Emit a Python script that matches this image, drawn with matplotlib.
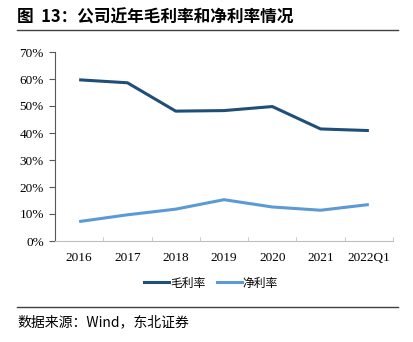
import matplotlib
matplotlib.use("Agg")
import matplotlib.pyplot as plt
import numpy as np
from matplotlib.lines import Line2D

plt.rcParams['font.family'] = ['Liberation Serif', 'Noto Sans CJK SC', 'DejaVu Sans']

categories = ["2016", "2017", "2018", "2019", "2020", "2021", "2022Q1"]
gross_margin = [59.7, 58.6, 48.1, 48.3, 49.8, 41.5, 40.9]
net_margin = [7.2, 9.7, 11.8, 15.3, 12.6, 11.4, 13.5]
series_names = ["毛利率", "净利率"]
yticks = [0, 10, 20, 30, 40, 50, 60, 70]

W, H = 414, 342
fig = plt.figure(figsize=(W / 100, H / 100), dpi=100)

ax = fig.add_axes([55 / W, 1 - 241 / H, (393 - 55) / W, (241 - 52) / H])
x = np.arange(len(categories))
dark = "#1F4E79"
light = "#5B9BD5"
ax.plot(x, gross_margin, color=dark, lw=2.2, solid_capstyle="butt")
ax.plot(x, net_margin, color=light, lw=2.2, solid_capstyle="butt")

ax.set_xlim(-0.5, len(categories) - 0.5)
ax.set_ylim(0, 70)
ax.set_yticks(yticks)
ax.set_yticklabels([f"{v}%" for v in yticks], fontsize=9.5)
ax.set_xticks(x)
ax.set_xticklabels(categories, fontsize=9.5)
ax.tick_params(axis="x", length=0, pad=8)
ax.set_xticks(np.arange(-0.5, len(categories)), minor=True)
ax.tick_params(axis="x", which="minor", direction="in", length=3, color="#BFBFBF")
ax.tick_params(axis="y", direction="out", length=4, color="#595959", pad=4)
for s in ["top", "right"]:
    ax.spines[s].set_visible(False)
ax.spines["left"].set_color("#595959")
ax.spines["bottom"].set_color("#BFBFBF")

handles = [Line2D([], [], color=dark, lw=2.2), Line2D([], [], color=light, lw=2.2)]
fig.legend(handles, series_names, loc="center", bbox_to_anchor=(211 / W, 1 - 283 / H),
           ncol=2, frameon=False, handlelength=2.1, handletextpad=0.1,
           columnspacing=1.0, prop={'family': ['Noto Sans CJK SC'], 'size': 8.5})

fig.text(17 / W, 1 - 17 / H, "图  13：公司近年毛利率和净利率情况", fontsize=12, fontweight="bold",
         family=['Noto Sans CJK SC'], va="center", ha="left")
fig.add_artist(Line2D([17 / W, 398 / W], [1 - 30 / H, 1 - 30 / H], color="#404040", lw=1))
fig.add_artist(Line2D([17 / W, 398 / W], [1 - 307 / H, 1 - 307 / H], color="#404040", lw=1))
fig.text(17 / W, 1 - 322 / H, "数据来源：Wind，东北证券", fontsize=10,
         family=['Noto Sans CJK SC', 'Liberation Serif'], va="center", ha="left")

fig.savefig("out.png", dpi=100)
